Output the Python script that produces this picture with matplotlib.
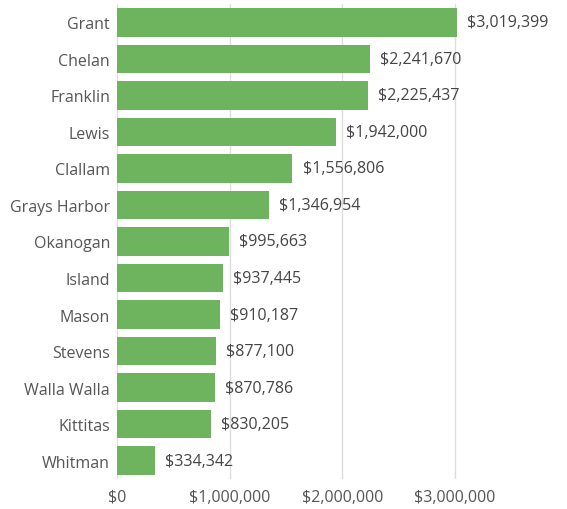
import matplotlib.pyplot as plt
from matplotlib.ticker import FuncFormatter

counties = ['Grant', 'Chelan', 'Franklin', 'Lewis', 'Clallam', 'Grays Harbor',
            'Okanogan', 'Island', 'Mason', 'Stevens', 'Walla Walla', 'Kittitas',
            'Whitman']
amounts = [3019399, 2241670, 2225437, 1942000, 1556806, 1346954,
           995663, 937445, 910187, 877100, 870786, 830205, 334342]
xticks = [0, 1000000, 2000000, 3000000]

plt.rcParams['font.family'] = ['Open Sans', 'DejaVu Sans']

fig = plt.figure(figsize=(5.67, 5.10), dpi=100)
ax = fig.add_axes([117 / 567, 30 / 510, 438 / 567, 475 / 510])

pos = list(range(len(counties)))
ax.barh(pos, amounts, height=0.78, color='#6eb35e', zorder=2)

for p, v in zip(pos, amounts):
    ax.text(v + 90000, p, '${:,}'.format(v), va='center', ha='left',
            fontsize=11.5, color='#444444')

ax.set_ylim(len(counties) - 0.5, -0.5)
ax.set_xlim(0, 438 / 112.7 * 1e6)
ax.set_yticks(pos)
ax.set_yticklabels(counties, fontsize=11.5, color='#555555')
ax.set_xticks(xticks)
ax.xaxis.set_major_formatter(FuncFormatter(lambda x, _: '${:,.0f}'.format(x)))
ax.tick_params(axis='x', labelsize=11.5, labelcolor='#555555', length=0, pad=7)
ax.tick_params(axis='y', length=0, pad=5)

ax.grid(axis='x', color='#dddddd', linewidth=1, zorder=0)
for s in ['top', 'right', 'bottom', 'left']:
    ax.spines[s].set_visible(False)

fig.savefig('out.png', dpi=100)
